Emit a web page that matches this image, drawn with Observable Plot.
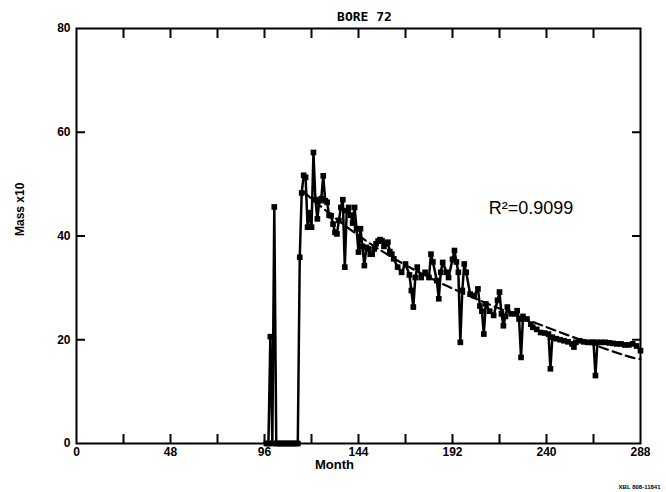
<!DOCTYPE html>
<html><head><meta charset="utf-8">
<script src="https://cdn.jsdelivr.net/npm/d3@7"></script>
<script src="https://cdn.jsdelivr.net/npm/@observablehq/plot@0.6"></script>
<style>body{margin:0;background:#fff}</style>
</head><body><div id="chart"></div>
<script>
const months = [97,98,99,100,101,102,103,104,105,106,107,108,109,110,111,112,113,
114,115,116,117,118,119,120,121,122,123,124,125,126,127,128,129,130,131,132,133,134,135,136,137,138,139,140,
141,142,143,144,145,146,147,148,149,150,151,152,153,154,155,156,157,158,159,160,161,162,164,166,168,170,171,172,
173,174,176,178,180,181,182,184,185,186,187,189,190,192,193,194,195,196,197,198,199,201,203,205,206,207,208,209,
211,213,215,216,217,218,219,220,222,224,225,226,227,228,230,232,233,235,237,239,241,242,243,245,247,249,251,253,
254,255,257,259,261,263,264,265,266,268,270,272,274,276,278,280,282,284,286,288];
const mass = [0,0,20.6,0,45.6,0,0,0,0,0,0,0,0,0,0,0,0,
35.9,48.3,51.7,51.3,41.7,44.5,41.7,56.1,47,43.3,46.8,47.2,51.6,46.8,46.5,44,43.9,42.3,40.7,40.4,43,45.5,47,34,44.9,45.5,44,
42.5,45.5,41.4,36.9,41.4,38,34.3,37.8,37.5,36.5,36.5,37.5,38.5,39,39.3,39.1,38,38.5,38.8,37,36.5,35.6,34,33,34.6,32.5,29.5,26.3,
32,34,32,33,32,36.5,35,31.4,27.9,33,34.9,33,32,35.5,37.2,35,33,19.5,29.5,34.6,33,28.8,28.5,29.8,26.5,25.5,21.1,26.9,
25.5,24.7,27.6,29.2,25,22.7,24.5,26.3,25,25,25.6,24,16.6,24.5,24,23,22.4,22,21.4,21.3,21.1,14.4,20.5,20.2,20,19.8,19.6,19.2,
18.6,19.5,19.8,19.6,19.5,19.5,19.5,13.1,19.5,19.5,19.5,19.4,19.3,19.2,19.2,19,19,19.2,18.8,17.9];
const fitMonths = [116, 140, 189, 266, 288];
const fitMass = [48.5, 41.2, 30.4, 18.8, 16.3];
const xTickLabels = [0, 48, 96, 144, 192, 240, 288];
const xTickMarks = [24, 48, 72, 96, 120, 144, 168, 192, 216, 240, 264];
const yTickLabels = [0, 20, 40, 60, 80];
const yTickMarks = [20, 40, 60];
const title = "BORE 72";
const xLabel = "Month";
const yLabel = "Mass x10";
const r2Text = "R\u00b2=0.9099";
const r2Pos = {month: 210.5, mass: 45.3};
const credit = "XBL 808-11841";

const series = months.map((m, i) => ({month: m, mass: mass[i]}));
const fit = fitMonths.map((m, i) => ({month: m, mass: fitMass[i]}));
const font = "'Liberation Sans', Arial, sans-serif";

const chart = Plot.plot({
  width: 666,
  height: 492,
  marginLeft: 76,
  marginRight: 26,
  marginTop: 28,
  marginBottom: 49,
  style: {fontFamily: font, background: "#fff", color: "#000"},
  x: {domain: [0, 288]},
  y: {domain: [0, 80]},
  marks: [
    Plot.line(fit, {x: "month", y: "mass", stroke: "#000", strokeWidth: 2.2, strokeDasharray: "9,5", curve: "natural"}),
    Plot.line(series, {x: "month", y: "mass", stroke: "#000", strokeWidth: 2.5}),
    Plot.dot(series, {x: "month", y: "mass", symbol: "square", r: 3.2, fill: "#000"}),
    Plot.frame({stroke: "#000", strokeWidth: 2}),
    Plot.axisX({anchor: "bottom", ticks: xTickMarks, tickSize: -9, text: null, strokeWidth: 2, label: null}),
    Plot.axisX({anchor: "top", ticks: xTickMarks, tickSize: -9, text: null, strokeWidth: 2, label: null}),
    Plot.axisX({anchor: "bottom", ticks: xTickLabels, tickSize: 0, tickPadding: 4, fontSize: 12, fontWeight: "bold", label: null}),
    Plot.axisY({anchor: "left", ticks: yTickMarks, tickSize: -9, text: null, strokeWidth: 2, label: null}),
    Plot.axisY({anchor: "right", ticks: yTickMarks, tickSize: -9, text: null, strokeWidth: 2, label: null}),
    Plot.axisY({anchor: "left", ticks: yTickLabels, tickSize: 0, tickPadding: 6, fontSize: 12, fontWeight: "bold", label: null}),
    Plot.text([title], {frameAnchor: "top", dy: -17, dx: 6, text: d => d, fontSize: 13, fontWeight: "bold", fontFamily: "'DejaVu Sans Mono', monospace"}),
    Plot.text([xLabel], {frameAnchor: "bottom", dy: 25, dx: -24, text: d => d, fontSize: 13, fontWeight: "bold"}),
    Plot.text([yLabel], {frameAnchor: "left", dx: -56, rotate: -90, text: d => d, fontSize: 12, fontWeight: "bold"}),
    Plot.text([r2Pos], {x: "month", y: "mass", text: () => r2Text, textAnchor: "start", fontSize: 18}),
    Plot.text([credit], {frameAnchor: "bottom-right", dy: 45, dx: 20, text: d => d, textAnchor: "end", fontSize: 6, fontWeight: "bold"})
  ]
});
document.getElementById("chart").append(chart);
</script>
</body></html>
